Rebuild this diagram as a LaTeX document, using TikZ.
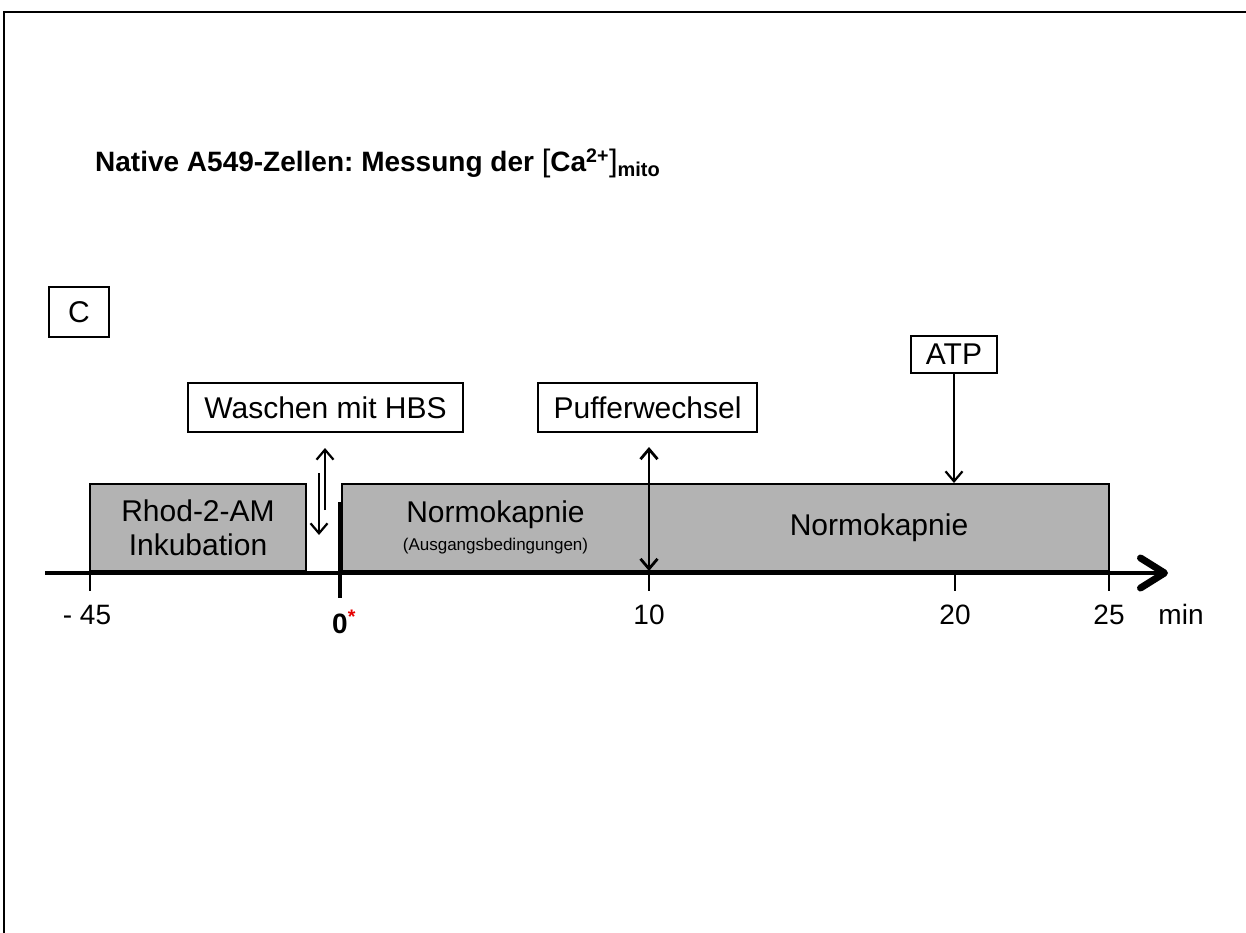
\documentclass[tikz,border=0pt]{standalone}
\usepackage{fontspec}
\setmainfont{Liberation Sans}
\usetikzlibrary{arrows.meta}
\definecolor{barfill}{RGB}{179,179,179}
\definecolor{astred}{RGB}{230,0,0}
\newcommand{\fsz}[1]{\fontsize{#1}{#1}\selectfont}
\frenchspacing
\tikzset{
  lblbox/.style={draw, line width=2pt, fill=white, inner sep=0pt, font=\fsz{30}},
  barbox/.style={draw, line width=2pt, fill=barfill, inner sep=0pt, align=center, font=\fontsize{30}{34}\selectfont},
  thinarrow/.style={line width=2.2pt, -{Straight Barb[length=10pt,width=17pt,line width=2.2pt]}},
  ticktext/.style={anchor=base, font=\fsz{28}, inner sep=0pt},
}
\begin{document}
\begin{tikzpicture}[x=1pt,y=-1pt]
\useasboundingbox (0,0) rectangle (1246,933);
% frame
\draw[line width=2pt] (4,940) -- (4,12) -- (1250,12);
% title
\node[anchor=base west, inner sep=0pt, font=\bfseries\fsz{28}] (title) at (95,172)
  {Native A549-Zellen: Messung der {\mdseries\fsz{31}[}Ca\textsuperscript{2+}{\mdseries\fsz{31}]}\raisebox{-5pt}{\fsz{20}mito}};
% panel label
\node[lblbox, minimum width=60pt, minimum height=50pt] (C) at (79,312) {C};
% label boxes
\node[lblbox, minimum width=275pt, minimum height=49pt] (wash) at (325.5,407.5) {Waschen mit HBS};
\node[lblbox, minimum width=219pt, minimum height=49pt] (puffer) at (647.5,407.5) {Pufferwechsel};
\node[lblbox, minimum width=86pt, minimum height=37pt] (atp) at (954,354.5) {ATP};
% bars
\node[barbox, minimum width=216pt, minimum height=87pt] (rhod) at (198,527.5) {Rhod-2-AM\\Inkubation};
\node[barbox, minimum width=307pt, minimum height=87pt] (norm1) at (495.5,527.5)
  {Normokapnie\\[-6pt]{\fsz{17}(Ausgangsbedingungen)}};
\node[barbox, minimum width=460pt, minimum height=87pt] (norm2) at (879,527.5) {Normokapnie};
% axis
\coordinate (axL) at (45,573);
\coordinate (axR) at (1168,573);
\draw[line width=4.5pt, -{Straight Barb[length=24pt,width=30pt,line width=7pt,round]}] (axL) -- (axR);
% ticks
\foreach \x in {90,1109} \draw[line width=2.5pt] (\x,556) -- (\x,591);
\foreach \x in {649,955} \draw[line width=2.5pt] (\x,573) -- (\x,591);
\draw[line width=4pt] (340,502) -- (340,598);
% tick labels
\node[ticktext] (tm45) at (87,624) {- 45};
\node[ticktext, font=\bfseries\fsz{28}] (t0) at (340,633) {0\rlap{\textsuperscript{\textcolor{astred}{*}}}};
\node[ticktext] (t10) at (649,624) {10};
\node[ticktext] (t20) at (955,624) {20};
\node[ticktext] (t25) at (1109,624) {25};
\node[ticktext] (tmin) at (1181,624) {min};
% arrows
\coordinate (wupS) at (325,510);
\coordinate (wupE) at (325,448);
\coordinate (wdnS) at (319,473);
\coordinate (wdnE) at (319,535);
\draw[thinarrow] (wupS) -- (wupE);
\draw[thinarrow] (wdnS) -- (wdnE);
\coordinate (pufT) at (649,447);
\coordinate (pufB) at (649,571);
\draw[line width=2.8pt, {Straight Barb[length=10pt,width=17pt,line width=2.8pt]}-{Straight Barb[length=10pt,width=17pt,line width=2.8pt]}] (pufT) -- (pufB);
\draw[thinarrow] (atp.south) -- (atp.south |- norm2.north);
\end{tikzpicture}
\end{document}
